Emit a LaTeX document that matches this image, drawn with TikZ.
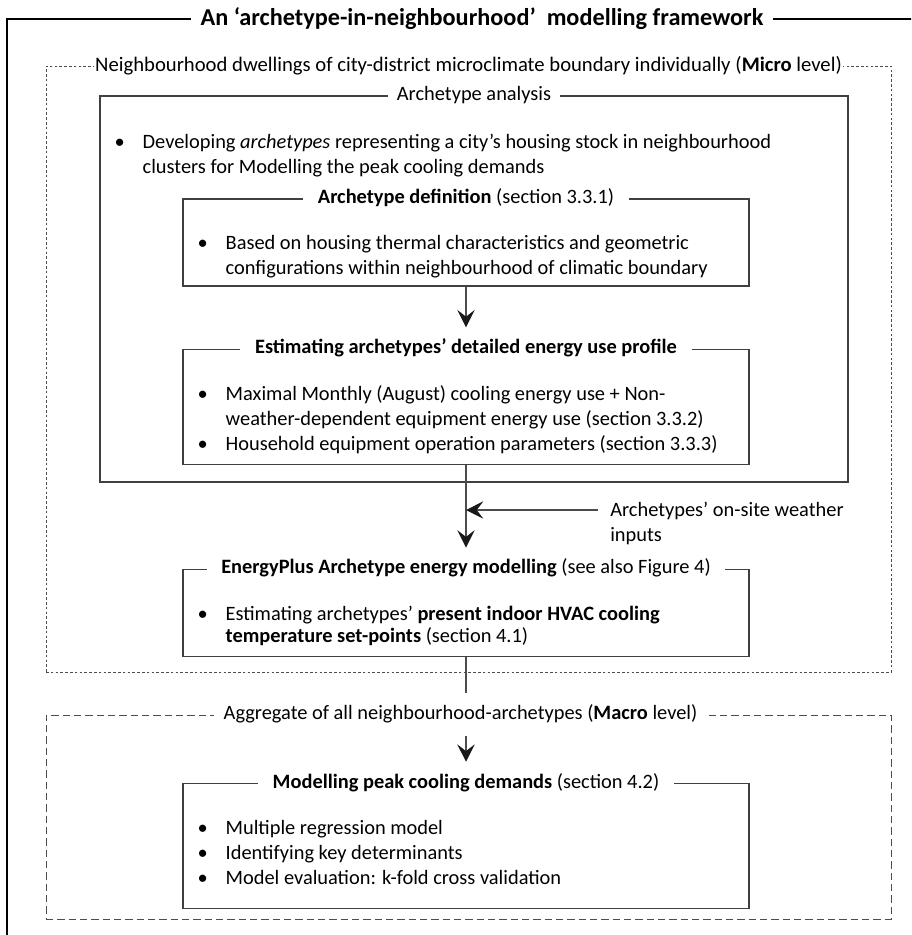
\documentclass[tikz,border=0pt]{standalone}
\usepackage{fontspec}
\setmainfont{Carlito}
\usetikzlibrary{arrows.meta, positioning}

% vinetas con sangria francesa
\newcommand{\bul}[1]{\makebox[21pt][l]{\textbullet}#1}
\newcommand{\cont}[1]{\hspace*{21pt}#1}

\begin{document}
\begin{tikzpicture}[
		x=0.75pt, y=-0.75pt,
		% Estilos de las cajas
		frame/.style = {draw=black, line width=2pt},
		micro/.style = {draw=black!70, line width=0.6pt, dash pattern=on 2pt off 1.6pt},
		macro/.style = {draw=black!70, line width=0.6pt, dash pattern=on 5.5pt off 3pt},
		panel/.style = {draw=black!75, line width=0.9pt, rectangle},
		block/.style = {panel, minimum width=424.5pt},
		% Titulos que cortan el borde superior
		head/.style = {fill=white, inner xsep=11pt, inner ysep=8.5pt, text height=11pt, text depth=3.5pt},
		caption/.style = {fill=white, inner xsep=7pt, inner ysep=2pt},
		items/.style = {align=left, inner sep=0pt},
		link/.style = {draw=black!70, line width=0.9pt},
		every node/.style = {font=\fontsize{15.3}{18.75}\selectfont},
		>={Stealth[length=13pt, width=13pt, inset=5pt, color=black!90]}
		]
		
		\clip (0,0) rectangle (911,935);
		
		% --- MARCO EXTERIOR ---
		\draw[frame] (7,19) rectangle (940,960);
		\node[caption, font=\fontsize{18.2}{22}\selectfont\bfseries] (title) at (482,19) {An ‘archetype-in-neighbourhood’\ \ modelling framework};
		
		% --- NIVEL MICRO ---
		\node[micro, minimum width=633.75pt, minimum height=454.5pt] (microbox) at (468.5,369) {};
		\node[caption, inner xsep=1pt, font=\fontsize{15.5}{18.75}\selectfont] (microhead) at (microbox.north) {Neighbourhood dwellings of city-district microclimate boundary individually (\textbf{Micro} level)};
		
		\node[panel, minimum width=561pt, minimum height=289.5pt] (analysis) at (474,289) {};
		\node[caption] (analysishead) at (analysis.north) {Archetype analysis};
		\node[items, below right=28.5pt and 11.25pt of analysis.north west] (analysisitems) {\bul{Developing \emph{archetypes} representing a city’s housing stock in neighbourhood}\\ \cont{clusters for Modelling the peak cooling demands}};
		
		\node[block, minimum height=65.25pt] at (466,242.5) (defbox) {};
		\node[head] (defhead) at (defbox.north) {\textbf{Archetype definition} (section 3.3.1)};
		\node[items, below right=27.75pt and 11.25pt of defbox.north west] (defitems) {\bul{Based on housing thermal characteristics and geometric}\\ \cont{configurations within neighbourhood of climatic boundary}};
		
		\node[block, minimum height=86.25pt, below=46.5pt of defbox] (estbox) {};
		\node[head] (esthead) at (estbox.north) {\textbf{Estimating archetypes’ detailed energy use profile}};
		\node[items, below right=27.75pt and 11.25pt of estbox.north west] (estitems) {\bul{Maximal Monthly (August) cooling energy use + Non-}\\ \cont{weather-dependent equipment energy use (section 3.3.2)}\\ \bul{Household equipment operation parameters (section 3.3.3)}};
		
		\node[block, minimum height=65.25pt, below=78pt of estbox] (epbox) {};
		\node[head] (ephead) at (epbox.north) {\textbf{EnergyPlus Archetype energy modelling} (see also Figure 4)};
		\node[items, font=\fontsize{15.3}{16.75}\selectfont, below right=27.75pt and 11.25pt of epbox.north west] (epitems) {\bul{Estimating archetypes’ \textbf{present indoor HVAC cooling}}\\ \cont{\textbf{temperature set-points} (section 4.1)}};
		
		% entrada de clima
		\coordinate (wstart) at (598,510);
		\node[items, anchor=west] (weather) at (610,523) {Archetypes’ on-site weather\\ inputs};
		
		% --- NIVEL MACRO ---
		\node[macro, minimum width=633.75pt, minimum height=153pt] (macrobox) at (468.5,817) {};
		\node[head, inner xsep=7pt, xshift=-6pt] (macrohead) at (macrobox.north) {Aggregate of all neighbourhood-archetypes (\textbf{Macro} level)};
		
		\node[block, minimum height=93.75pt, below=94.5pt of epbox] (modbox) {};
		\node[head] (modhead) at (modbox.north) {\textbf{Modelling peak cooling demands} (section 4.2)};
		\node[items, below right=27.75pt and 11.25pt of modbox.north west] (moditems) {\bul{Multiple regression model}\\ \bul{Identifying key determinants}\\ \bul{Model evaluation: k-fold cross validation}};
		
		% --- CONECTORES ---
		\draw[link, ->] (defbox.south) -- (esthead.north);
		\draw[link, ->] (estbox.south) -- (ephead.north);
		\coordinate (wjoin) at (estbox.south |- wstart);
		\draw[link, ->] (wstart) -- (wjoin);
		\draw[link] (epbox.south) -- (epbox.south |- macrohead.north);
		\draw[link, ->] (epbox.south |- macrohead.south) -- (modhead.north);
		
	\end{tikzpicture}
\end{document}
